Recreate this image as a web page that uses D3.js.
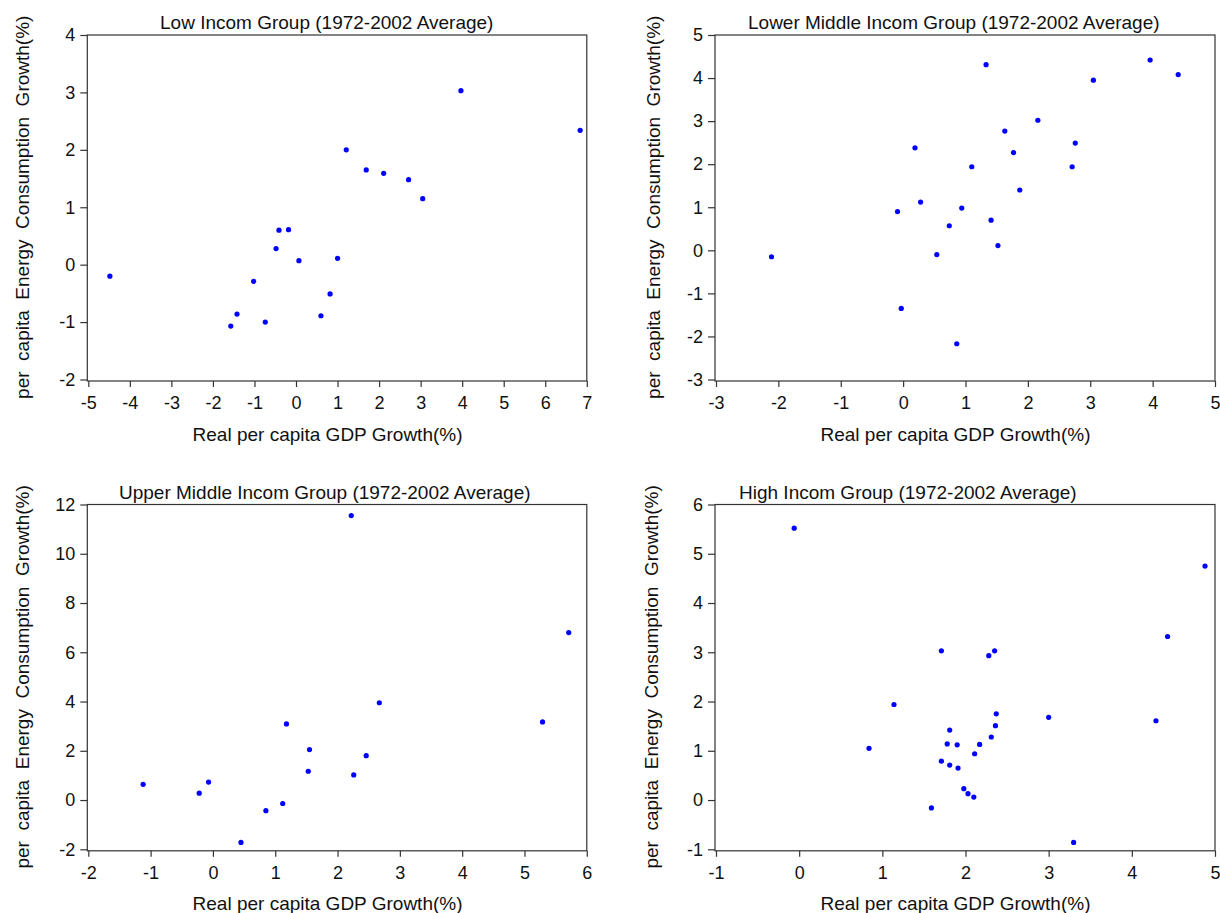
<!DOCTYPE html>
<meta charset="utf-8">
<html>
<head>
<style>
    body { margin: 0; background: #fff; }
    svg text { font-family: "Liberation Sans", Arial, sans-serif; fill: #111; }
    .frame { fill: none; stroke: #333; stroke-width: 1.2px; }
    .axis path { display: none; }
    .axis line { stroke: #333; stroke-width: 1.2px; }
    .axis text { font-size: 18px; }
    .dots circle { fill: #0000ff; }
</style>
</head>
<body>
<svg width="1220" height="913"></svg>
<script src="https://cdn.jsdelivr.net/npm/d3@7"></script>
<script>

    var titles = [
        "Low Incom Group (1972-2002 Average)",
        "Lower Middle Incom Group (1972-2002 Average)",
        "Upper Middle Incom Group (1972-2002 Average)",
        "High Incom Group (1972-2002 Average)"
    ];
    var xTitle = "Real per capita GDP Growth(%)";
    var yTitle = "per  capita  Energy  Consumption  Growth(%)";

    // Low income
    var lowGdp = [-4.48, 3.97, 6.84, 1.21, 1.69, 2.11, 2.71, 3.05, -0.41, -0.18, -0.48, 0.07, 1.0, -1.02, 0.82, -1.42, -1.57, -0.74, 0.60];
    var lowEnergy = [-0.20, 3.03, 2.34, 2.0, 1.65, 1.59, 1.48, 1.15, 0.60, 0.61, 0.28, 0.07, 0.11, -0.29, -0.51, -0.86, -1.07, -1.0, -0.89];

    // Lower middle income
    var lowerMidGdp = [-2.11, 1.33, 3.96, 4.41, 3.05, 2.16, 1.63, 2.76, 0.19, 1.77, 1.10, 2.71, 1.87, 0.28, -0.09, 0.94, 1.41, 0.74, 1.52, 0.54, -0.03, 0.86];
    var lowerMidEnergy = [-0.15, 4.31, 4.42, 4.08, 3.95, 3.02, 2.77, 2.49, 2.38, 2.27, 1.94, 1.94, 1.40, 1.12, 0.90, 0.98, 0.70, 0.57, 0.11, -0.10, -1.35, -2.17];

    // Upper middle income
    var upperMidGdp = [2.22, 5.71, 2.67, 5.29, 1.18, 1.55, 2.46, 1.53, 2.26, -1.12, -0.07, -0.22, 1.12, 0.85, 0.45];
    var upperMidEnergy = [11.55, 6.80, 3.95, 3.17, 3.09, 2.05, 1.80, 1.17, 1.02, 0.64, 0.73, 0.28, -0.14, -0.43, -1.72];

    // High income
    var highGdp = [-0.06, 4.88, 4.43, 1.71, 2.35, 2.28, 1.14, 2.37, 3.0, 4.29, 2.36, 1.81, 2.31, 1.78, 1.90, 2.17, 0.84, 2.11, 1.71, 1.81, 1.91, 1.98, 2.03, 2.10, 1.59, 3.30];
    var highEnergy = [5.52, 4.75, 3.32, 3.03, 3.03, 2.93, 1.94, 1.75, 1.68, 1.61, 1.51, 1.42, 1.28, 1.14, 1.12, 1.13, 1.05, 0.94, 0.79, 0.71, 0.65, 0.23, 0.13, 0.06, -0.16, -0.86];

    var xTicks = [[-5, -4, -3, -2, -1, 0, 1, 2, 3, 4, 5, 6, 7], [-3, -2, -1, 0, 1, 2, 3, 4, 5], [-2, -1, 0, 1, 2, 3, 4, 5, 6], [-1, 0, 1, 2, 3, 4, 5]];
    var yTicks = [[-2, -1, 0, 1, 2, 3, 4], [-3, -2, -1, 0, 1, 2, 3, 4, 5], [-2, 0, 2, 4, 6, 8, 10, 12], [-1, 0, 1, 2, 3, 4, 5, 6]];

    var panels = [
        {x: lowGdp, y: lowEnergy, xr: [88.3, 586.8], yr: [379.5, 35], titleX: 160, titleY: 28.5, yLabX: 22},
        {x: lowerMidGdp, y: lowerMidEnergy, xr: [716, 1215], yr: [379.5, 35], titleX: 748, titleY: 28.5, yLabX: 653},
        {x: upperMidGdp, y: upperMidEnergy, xr: [88.3, 586.8], yr: [849.3, 504.5], titleX: 119, titleY: 498.5, yLabX: 22},
        {x: highGdp, y: highEnergy, xr: [716, 1215], yr: [849.3, 504.5], titleX: 739, titleY: 498.5, yLabX: 651}
    ];

    // plain hyphen for negatives, like the original
    var fmt = function(d) { return String(d); };

    var svg = d3.select("svg");

    panels.forEach(function(p, i) {
        var xs = xTicks[i], ys = yTicks[i];
        var x = d3.scaleLinear().domain([xs[0], xs[xs.length - 1]]).range(p.xr);
        var y = d3.scaleLinear().domain([ys[0], ys[ys.length - 1]]).range(p.yr);
        var g = svg.append("g");

        g.append("rect")
            .attr("class", "frame")
            .attr("x", p.xr[0] - 1)
            .attr("y", p.yr[1])
            .attr("width", p.xr[1] - p.xr[0] + 1)
            .attr("height", p.yr[0] - p.yr[1] + 1.5);

        g.append("g")
            .attr("class", "axis")
            .attr("transform", "translate(0," + (p.yr[0] + 1.5) + ")")
            .call(d3.axisBottom(x).tickValues(xs).tickSize(6).tickPadding(9).tickFormat(fmt));

        g.append("g")
            .attr("class", "axis")
            .attr("transform", "translate(" + (p.xr[0] - 1) + ",0)")
            .call(d3.axisLeft(y).tickValues(ys).tickSize(7).tickPadding(5).tickFormat(fmt));

        g.append("g")
            .attr("class", "dots")
            .selectAll("circle")
            .data(p.x)
            .enter().append("circle")
            .attr("cx", function(d) { return x(d); })
            .attr("cy", function(d, j) { return y(p.y[j]); })
            .attr("r", 2.6);

        g.append("text")
            .attr("x", p.titleX)
            .attr("y", p.titleY)
            .style("font-size", "19px")
            .text(titles[i]);

        g.append("text")
            .attr("x", (p.xr[0] + p.xr[1]) / 2 - 10)
            .attr("y", p.yr[0] + 61)
            .attr("text-anchor", "middle")
            .style("font-size", "19px")
            .text(xTitle);

        g.append("text")
            .attr("transform", "translate(" + (p.yLabX + 7) + "," + ((p.yr[0] + p.yr[1]) / 2) + ") rotate(-90)")
            .attr("text-anchor", "middle")
            .style("font-size", "19px")
            .style("white-space", "pre")
            .attr("xml:space", "preserve")
            .text(yTitle);
    });
</script>
</body>
</html>
